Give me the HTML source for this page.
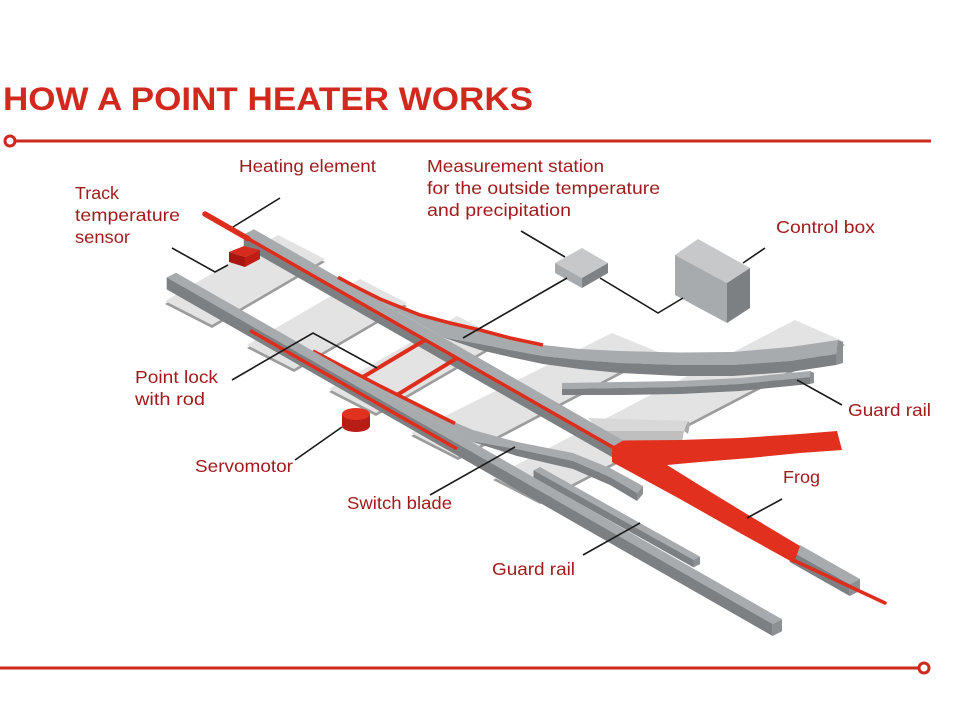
<!DOCTYPE html>
<html>
<head>
<meta charset="utf-8">
<style>
html,body{margin:0;padding:0;background:#fff;}
svg{display:block;}
text{font-family:"Liberation Sans",sans-serif;}
</style>
</head>
<body>
<svg width="968" height="726" viewBox="0 0 968 726" xmlns="http://www.w3.org/2000/svg">
<rect width="968" height="726" fill="#ffffff"/>

<!-- Title and rules -->
<text x="3" y="110" font-size="32" font-weight="bold" fill="#d2291e" textLength="530" lengthAdjust="spacingAndGlyphs">HOW A POINT HEATER WORKS</text>
<line x1="15" y1="141" x2="931" y2="141" stroke="#cc2a1f" stroke-width="3"/>
<circle cx="10" cy="141" r="5" fill="#fff" stroke="#cc2a1f" stroke-width="3"/>
<line x1="0" y1="668" x2="918" y2="668" stroke="#cc2a1f" stroke-width="3"/>
<circle cx="924" cy="668" r="5" fill="#fff" stroke="#cc2a1f" stroke-width="3"/>

<!-- Sleepers -->
<g>
  <polygon points="165,304 278,238 325,262 212,328" fill="#9c9c9c"/>
  <polygon points="165,301 278,235 325,259 212,325" fill="#e3e3e3"/>
  <polygon points="247,348 360,282 407,306 294,372" fill="#9c9c9c"/>
  <polygon points="247,345 360,279 407,303 294,369" fill="#e3e3e3"/>
  <polygon points="329,392 457,319 504,342 376,416" fill="#9c9c9c"/>
  <polygon points="329,389 457,316 504,339 376,413" fill="#e3e3e3"/>
  <polygon points="411,436 612,336 658,355 458,460" fill="#9c9c9c"/>
  <polygon points="411,433 612,333 658,352 458,457" fill="#e3e3e3"/>
  <polygon points="493,480 795,323 845,345 540,504" fill="#9c9c9c"/>
  <polygon points="493,477 795,320 845,342 540,501" fill="#e3e3e3"/>
</g>

<!-- Block near frog -->
<polygon points="588,418 688,421 684,431 600,431" fill="#d8d8d8"/>
<polygon points="600,431 684,431 682,442 608,445" fill="#bfbfbf"/>
<polygon points="688,421 690,424 688,434 684,431" fill="#a9a9a9"/>

<!-- Curved stock rail -->
<path d="M338,277.3 L360,289 L380,299 L400,307 L420,315 L450,323 L480,330 L510,338 L543,345 L580,349 L620,351 L680,352.5 L733,352 L790,347 L838,340 L836,354 L790,361 L733,365 L680,365 L620,363 L580,360 L543,356 L510,350 L480,344 L443,337.4 Z" fill="#a8abae"/>
<path d="M443,337.4 L480,344 L510,350 L543,356 L580,360 L620,363 L680,365 L733,365 L790,361 L836,354 L836,365 L790,372 L733,376 L680,376 L620,373 L580,369 L543,364 L510,357 L480,350 Z" fill="#7d8083"/>
<path d="M838,340 L843,342 L843,363 L836,365 L836,354 Z" fill="#8d9093"/>

<!-- Guard rail right -->
<path d="M562,383 L620,382 L680,381 L740,378 L810,371 L810,377 L740,384 L680,387 L620,388 L562,389 Z" fill="#a8abae"/>
<path d="M562,389 L620,388 L680,387 L740,384 L810,377 L810,384 L740,391 L680,394 L620,395 L562,395 Z" fill="#7d8083"/>
<path d="M810,371 L814,373 L814,383 L810,384 Z" fill="#8d9093"/>

<!-- Rail 1 -->
<polygon points="254,229.3 625,441.5 614.7,446.6 243.7,234.4" fill="#a8abae"/>
<polygon points="243.7,234.4 614.7,446.6 614.7,458.6 243.7,246.4" fill="#7d8083"/>
<line x1="205" y1="214" x2="248" y2="238.6" stroke="#dc2d1d" stroke-width="5.5" stroke-linecap="round"/>
<line x1="240" y1="234" x2="625" y2="454.2" stroke="#dc2d1d" stroke-width="3.5"/>

<!-- Curved rail heating wire -->
<path d="M338,277.3 L360,289 L380,299 L400,307 L420,315 L450,323 L480,330 L510,338 L543,345" fill="none" stroke="#dc2d1d" stroke-width="3.5"/>

<!-- Track temperature sensor -->
<polygon points="229,252 244,246 260,250 245,257" fill="#d62a1e"/>
<polygon points="229,252 245,257 245,267 229,262" fill="#a8140f"/>
<polygon points="245,257 260,250 260,259 245,267" fill="#c01e15"/>

<!-- Point lock rods -->
<line x1="363" y1="377" x2="425" y2="340" stroke="#dc2d1d" stroke-width="4"/>
<line x1="397" y1="395" x2="457" y2="358" stroke="#dc2d1d" stroke-width="4"/>

<!-- Switch blade (lower) -->
<path d="M313,351 L380,386 L440,416 L473,430 L517,442 L573,453 L610,468 L643,486 L637,493 L610,477 L573,461 L517,449 L470,441 Z" fill="#a8abae"/>
<path d="M470,441 L517,449 L573,461 L610,477 L637,493 L637,501 L610,485 L573,469 L517,456 Z" fill="#7d8083"/>
<path d="M643,486 L637,493 L637,501 L643,494 Z" fill="#8d9093"/>
<path d="M313,351 L380,386 L455,423.5" fill="none" stroke="#dc2d1d" stroke-width="3.5"/>

<!-- Guard rail bottom -->
<polygon points="540,467 700,556.6 693.5,559.9 533.5,470.3" fill="#a8abae"/>
<polygon points="533.5,470.3 693.5,559.9 693.5,567.4 533.5,477.8" fill="#7d8083"/>
<polygon points="700,556.6 693.5,559.9 693.5,567.4 700,564.1" fill="#8d9093"/>

<!-- Rail 2 -->
<polygon points="176,272.7 782,619.3 772.7,624 166.7,277.4" fill="#a8abae"/>
<polygon points="166.7,277.4 772.7,624 772.7,636 166.7,289.4" fill="#7d8083"/>
<polygon points="782,619.3 772.7,624 772.7,636 782,631.3" fill="#8d9093"/>
<line x1="250" y1="330.5" x2="457" y2="448.9" stroke="#dc2d1d" stroke-width="3.5"/>

<!-- Rail segment after frog -->
<polygon points="800,545 860,579 849.7,584.2 789.7,550.2" fill="#a8abae"/>
<polygon points="789.7,550.2 849.7,584.2 849.7,596 789.7,562" fill="#7d8083"/>
<polygon points="860,579 849.7,584.2 849.7,596 860,590.8" fill="#8d9093"/>

<!-- Frog -->
<polygon points="612,447 623,440.5 680,440 740,438 800,434 837,431 842,450 800,453 750,458 700,462 667,465 700,485.5 750,516 800,546 794,563 740,533 680,499 612,462" fill="#e1301e"/>
<line x1="793" y1="560" x2="885" y2="603" stroke="#dc2d1d" stroke-width="3.5" stroke-linecap="round"/>

<!-- Servomotor -->
<rect x="342" y="414" width="28" height="12" fill="#b81d15"/>
<ellipse cx="356" cy="426" rx="14" ry="6" fill="#b81d15"/>
<ellipse cx="356" cy="414" rx="14" ry="6" fill="#e0321f"/>

<!-- Measurement station box -->
<polygon points="555,263 582,248 608,263 582,278" fill="#c6c8ca"/>
<polygon points="555,263 582,278 582,288 555,273" fill="#a8abae"/>
<polygon points="582,278 608,263 608,273 582,288" fill="#7f8285"/>

<!-- Control box -->
<polygon points="675,255 698,239 750,268 727,283" fill="#c6c8ca"/>
<polygon points="675,255 727,283 727,323 675,295" fill="#a8abae"/>
<polygon points="727,283 750,268 750,308 727,323" fill="#7d8083"/>

<!-- Connector lines -->
<g fill="none" stroke="#1a1a1a" stroke-width="1.6">
  <path d="M280,198 L233,227"/>
  <path d="M172,248 L215,272 L228,265"/>
  <path d="M521,231 L565,257"/>
  <path d="M567,278 L463,338"/>
  <path d="M600,278 L658,313 L683,298"/>
  <path d="M743,263 L765,248"/>
  <path d="M232,380 L313,333 L377,368"/>
  <path d="M797,380 L842,405"/>
  <path d="M295,460 L342,427"/>
  <path d="M747,518 L782,499"/>
  <path d="M430,495 L515,447"/>
  <path d="M583,555 L640,523"/>
</g>

<!-- Labels -->
<g font-size="17.5" fill="#a01c1c">
  <text x="239" y="172" textLength="137" lengthAdjust="spacingAndGlyphs">Heating element</text>
  <text x="75" y="199" textLength="44" lengthAdjust="spacingAndGlyphs">Track</text>
  <text x="75" y="221" textLength="105" lengthAdjust="spacingAndGlyphs">temperature</text>
  <text x="75" y="243" textLength="55" lengthAdjust="spacingAndGlyphs">sensor</text>
  <text x="427" y="172" textLength="177" lengthAdjust="spacingAndGlyphs">Measurement station</text>
  <text x="427" y="194" textLength="233" lengthAdjust="spacingAndGlyphs">for the outside temperature</text>
  <text x="427" y="216" textLength="144" lengthAdjust="spacingAndGlyphs">and precipitation</text>
  <text x="776" y="233" textLength="99" lengthAdjust="spacingAndGlyphs">Control box</text>
  <text x="135" y="383" textLength="83" lengthAdjust="spacingAndGlyphs">Point lock</text>
  <text x="135" y="405" textLength="70" lengthAdjust="spacingAndGlyphs">with rod</text>
  <text x="848" y="416" textLength="83" lengthAdjust="spacingAndGlyphs">Guard rail</text>
  <text x="195" y="472" textLength="98" lengthAdjust="spacingAndGlyphs">Servomotor</text>
  <text x="783" y="483" textLength="37" lengthAdjust="spacingAndGlyphs">Frog</text>
  <text x="347" y="509" textLength="105" lengthAdjust="spacingAndGlyphs">Switch blade</text>
  <text x="492" y="575" textLength="83" lengthAdjust="spacingAndGlyphs">Guard rail</text>
</g>
</svg>
</body>
</html>
